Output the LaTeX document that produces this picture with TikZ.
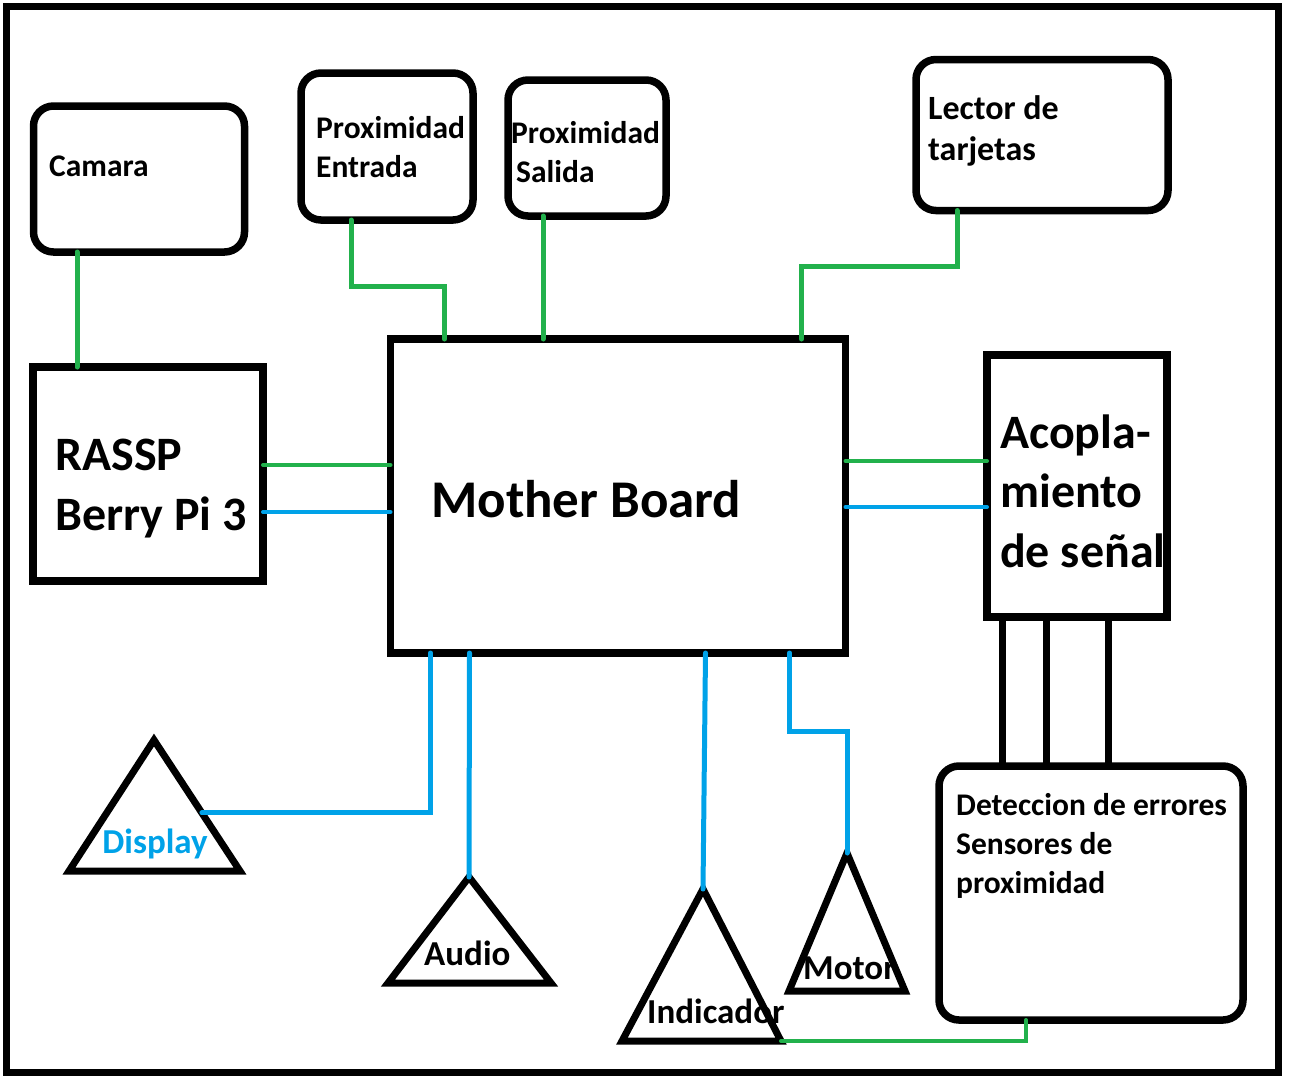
\documentclass[tikz,border=0pt]{standalone}
\usepackage{fontspec}
\setmainfont{Carlito}
\usepackage{tikz}
\usetikzlibrary{calc}
\definecolor{linegreen}{RGB}{34, 177, 76}
\definecolor{lineblue}{RGB}{0, 162, 232}
\tikzset{
    rbox/.style={draw, line width=7.5pt, rounded corners=20pt, inner sep=0pt, outer sep=0pt},
    sbox/.style={draw, line width=7.5pt, inner sep=0pt, outer sep=0pt},
    tri/.style={draw, line width=7pt, line join=miter},
    gline/.style={draw=linegreen, line width=5pt, line cap=round},
    bline/.style={draw=lineblue, line width=5pt, line cap=round},
    kline/.style={draw, line width=7pt},
    smalltxt/.style={font=\fontsize{31.5}{39}\selectfont\bfseries, align=left, inner sep=0pt, anchor=base west},
    bigtxt/.style={font=\fontsize{48}{59.5}\selectfont\bfseries, align=left, inner sep=0pt, anchor=base west},
    tritxt/.style={font=\fontsize{35}{40}\selectfont\bfseries, inner sep=0pt, anchor=base west}
}
\begin{document}
\begin{tikzpicture}[x=1pt, y=-1pt]
    \useasboundingbox (0,0) rectangle (1290,1080);
    % Frame
    \draw[line width=7pt] (6.5,6.5) rectangle (1278,1072.5);

    % Top boxes
    \node[rbox, minimum width=211pt, minimum height=146pt] (cam) at (139,179) {};
    \node[rbox, minimum width=172pt, minimum height=147pt] (pe) at (387,146.5) {};
    \node[rbox, minimum width=158pt, minimum height=136pt] (ps) at (587,148) {};
    \node[rbox, minimum width=252pt, minimum height=151pt] (lec) at (1042,135) {};

    % Main blocks
    \node[sbox, minimum width=230pt, minimum height=214pt] (rassp) at (148,474) {};
    \node[sbox, minimum width=455pt, minimum height=314pt] (mb) at (618,496) {};
    \node[sbox, minimum width=180pt, minimum height=262pt] (acp) at (1077,486) {};
    \node[rbox, minimum width=304pt, minimum height=254pt] (det) at (1091,893) {};

    % Triangles
    \coordinate (dta) at (154,740); \coordinate (dtl) at (69,871); \coordinate (dtr) at (240,871);
    \coordinate (ata) at (469,877); \coordinate (atl) at (388,983); \coordinate (atr) at (551,983);
    \coordinate (ita) at (703,889); \coordinate (itl) at (622,1041); \coordinate (itr) at (781,1041);
    \coordinate (mta) at (847,853); \coordinate (mtl) at (789,991); \coordinate (mtr) at (905,991);
    \draw[tri] (dta) -- (dtl) -- (dtr) -- cycle;
    \draw[tri] (ata) -- (atl) -- (atr) -- cycle;
    \draw[tri] (ita) -- (itl) -- (itr) -- cycle;
    \draw[tri] (mta) -- (mtl) -- (mtr) -- cycle;
    \coordinate (dport) at ($(dta)!0.557!(dtr)$);

    % Labels
    \node[smalltxt] (camtxt) at (49,176) {Camara};
    \node[smalltxt] (petxt) at (316,177) {Proximidad\\Entrada};
    \node[smalltxt] (pstxt) at (511,182) {Proximidad\\\hspace*{5pt}Salida};
    \node[smalltxt, font=\fontsize{34}{41}\selectfont\bfseries] (lectxt) at (928,160) {Lector de\\tarjetas};
    \node[bigtxt] (rastxt) at (55,530) {RASSP\\Berry Pi 3};
    \node[bigtxt, font=\fontsize{53}{60}\selectfont\bfseries] (mbtxt) at (431,517) {Mother Board};
    \node[bigtxt] (acptxt) at (1000,567) {Acopla-\\miento\\de señal};
    \node[smalltxt] (dettxt) at (956,893) {Deteccion de errores\\Sensores de\\proximidad};
    \node[tritxt, anchor=base, text=lineblue] (disptxt) at (155,853) {Display};
    \node[tritxt] (audtxt) at (424,965) {Audio};
    \node[tritxt] (indtxt) at (647,1023) {Indicador};
    \node[tritxt] (mottxt) at (803,979) {Motor};

    % Green links
    \draw[gline] ([xshift=43.5pt]cam.south west) -- ([xshift=44pt]rassp.north west);
    \draw[gline] ([xshift=50pt]pe.south west) -- ++(0,66) -| ([xshift=54pt]mb.north west);
    \draw[gline] ([xshift=35pt]ps.south west) -- ([xshift=35pt]ps.south west |- mb.north);
    \draw[gline] ([xshift=41pt]lec.south west) -- ++(0,56) -| ([xshift=-44pt]mb.north east);
    \draw[gline, line width=4pt] ([yshift=-98pt]rassp.north east) coordinate (rg) -- (rg -| mb.west);
    \draw[gline, line width=4pt] ([yshift=-122pt]mb.north east) coordinate (mg) -- (mg -| acp.west);
    \draw[gline, line width=4pt] (itr) -| ([xshift=87pt]det.south west);

    % Blue links
    \draw[bline, line width=4pt] ([yshift=-145pt]rassp.north east) coordinate (rb) -- (rb -| mb.west);
    \draw[bline, line width=4pt] ([yshift=-168pt]mb.north east) coordinate (mbb) -- (mbb -| acp.west);
    \draw[bline] ([xshift=40pt]mb.south west) |- (dport);
    \draw[bline] ([xshift=79pt]mb.south west) -- (ata);
    \draw[bline] ([xshift=315pt]mb.south west) -- (ita);
    \draw[bline] ([xshift=399pt]mb.south west) -- ++(0,78) -| (mta);

    % Black links
    \foreach \dx in {15,59,121}
        \draw[kline] ([xshift=\dx pt]acp.south west) -- ([xshift=\dx pt]acp.south west |- det.north);
\end{tikzpicture}
\end{document}
